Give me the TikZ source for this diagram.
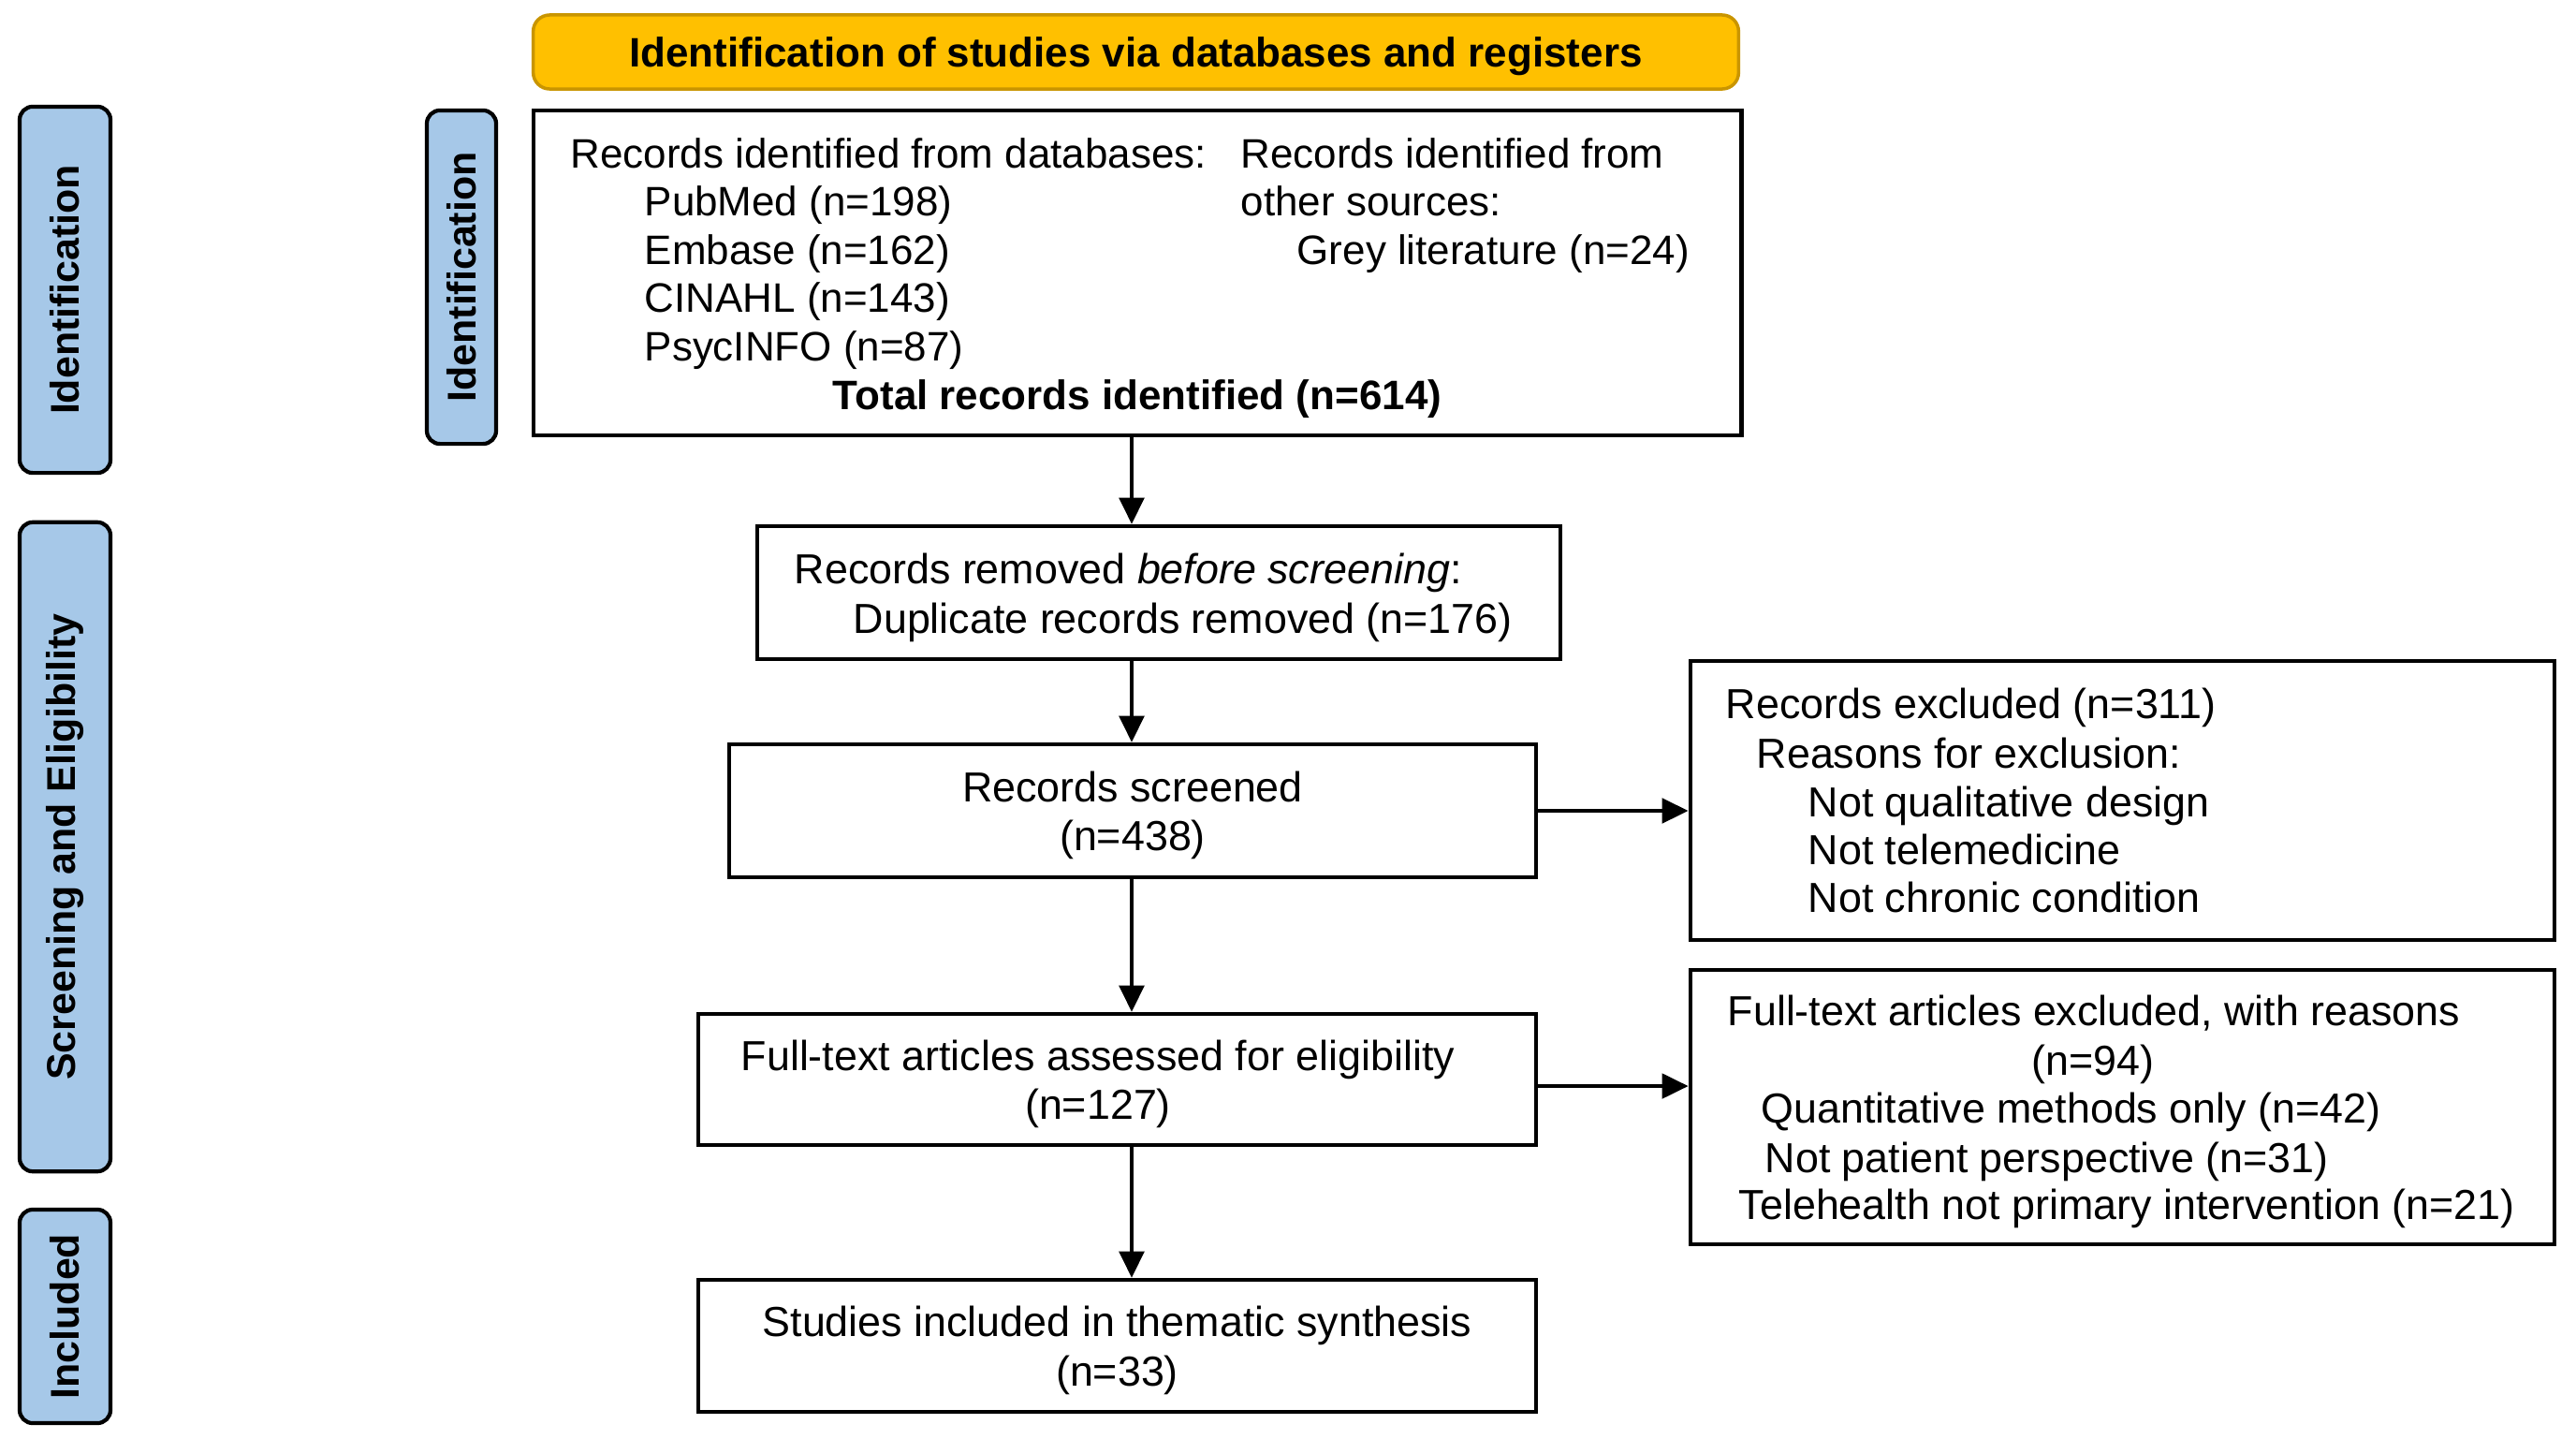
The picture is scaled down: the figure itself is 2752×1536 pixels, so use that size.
\documentclass[tikz,border=0pt]{standalone}
\usepackage{fontspec}
\setmainfont{Liberation Sans}
\usetikzlibrary{arrows.meta}
\definecolor{phaseblue}{HTML}{A6C8E8}
\definecolor{headfill}{HTML}{FFC000}
\definecolor{headline}{HTML}{C99500}
\begin{document}
\begin{tikzpicture}[x=0.01cm,y=-0.01cm,
  every node/.style={font=\fontsize{12.75}{14.9}\selectfont},
  idfont/.style={font=\fontsize{12.5}{14.7}\selectfont},
  box/.style={draw=black, line width=1.2pt, fill=white, inner sep=0pt, align=center},
  phase/.style={draw=black, line width=1.2pt, fill=phaseblue, rounded corners=4pt, inner sep=0pt},
  phasetext/.style={rotate=90, font=\fontsize{12.2}{14.7}\selectfont\bfseries},
  header/.style={draw=headline, line width=1pt, fill=headfill, rounded corners=5pt, inner sep=0pt},
  headtext/.style={inner sep=0pt, font=\fontsize{12.5}{14.7}\selectfont\bfseries},
  ln/.style={anchor=base west, inner sep=0pt},
  ctext/.style={align=center, inner sep=0pt},
  arr/.style={draw=black, line width=1.2pt, -{Triangle[length=8pt,width=7.5pt]}}
]
\useasboundingbox (0,0) rectangle (2752,1536);

% phase bars
\node[phase, minimum width=0.97cm, minimum height=3.91cm] (pid) at (69.5,309.5) {};
\node[phasetext] (pidt) at (pid.center) {Identification};
\node[phase, minimum width=0.74cm, minimum height=3.56cm] (pid2) at (493,296) {};
\node[phasetext] (pid2t) at (pid2.center) {Identification};
\node[phase, minimum width=0.97cm, minimum height=6.93cm] (pscr) at (69.5,904.5) {};
\node[phasetext] (pscrt) at (pscr.center) {Screening and Eligibility};
\node[phase, minimum width=0.97cm, minimum height=2.28cm] (pinc) at (69.5,1406) {};
\node[phasetext] (pinct) at (pinc.center) {Included};

% header
\node[header, minimum width=12.87cm, minimum height=0.79cm] (head) at (1213.5,55.5) {};
\node[headtext] (headt) at (1213.5,60) {Identification of studies via databases and registers};

% identification box
\node[box, minimum width=12.90cm, minimum height=3.47cm] (id) at (1215,291.5) {};
\node[ln, idfont] (id1) at (609,179) {Records identified from databases:};
\node[ln, idfont] (id2) at (688,230.6) {PubMed (n=198)};
\node[ln, idfont] (id3) at (688,282.2) {Embase (n=162)};
\node[ln, idfont] (id4) at (688,333.8) {CINAHL (n=143)};
\node[ln, idfont] (id5) at (688,385.4) {PsycINFO (n=87)};
\node[ln, idfont] (id6) at (1325,179) {Records identified from};
\node[ln, idfont] (id7) at (1325,230.6) {other sources:};
\node[ln, idfont] (id8) at (1385,282.2) {Grey literature (n=24)};
\node[anchor=base, inner sep=0pt, font=\fontsize{12.5}{14.7}\selectfont\bfseries] (idt) at (1215,437) {Total records identified (n=614)};

% removed
\node[box, minimum width=8.58cm, minimum height=1.42cm] (rem) at (1238,633) {};
\node[ln] (rem1) at (848,623) {Records removed \textit{before screening}:};
\node[ln] (rem2) at (911,676) {Duplicate records removed (n=176)};

% screened
\node[box, minimum width=8.62cm, minimum height=1.42cm] (scr) at (1210,866) {};
\node[ctext] (scrt) at (1210,871) {Records screened\\(n=438)};

% assessed
\node[box, minimum width=8.95cm, minimum height=1.40cm] (ass) at (1193.5,1153) {};
\node[ctext] (asst) at (1173,1158) {Full-text articles assessed for eligibility\\(n=127)};

% included
\node[box, minimum width=8.95cm, minimum height=1.41cm] (inc) at (1193.5,1437.5) {};
\node[ctext] (inct) at (1193.5,1442.5) {Studies included in thematic synthesis\\(n=33)};

% excluded
\node[box, minimum width=9.23cm, minimum height=2.98cm] (exc) at (2267.5,855) {};
\node[ln] (exc1) at (1843,767) {Records excluded (n=311)};
\node[ln] (exc2) at (1876,820) {Reasons for exclusion:};
\node[ln] (exc3) at (1931,872) {Not qualitative design};
\node[ln] (exc4) at (1931,923) {Not telemedicine};
\node[ln] (exc5) at (1931,974) {Not chronic condition};

% full-text excluded
\node[box, minimum width=9.23cm, minimum height=2.93cm] (ftx) at (2267.5,1182.5) {};
\node[ln] (ftx1) at (1845,1095) {Full-text articles excluded, with reasons};
\node[anchor=base, inner sep=0pt] (ftx2) at (2236,1148) {(n=94)};
\node[ln] (ftx3) at (1881,1199) {Quantitative methods only (n=42)};
\node[ln] (ftx4) at (1885,1252) {Not patient perspective (n=31)};
\node[ln] (ftx5) at (1857,1302) {Telehealth not primary intervention (n=21)};

% connectors
\coordinate (ax) at (1209,0);
\draw[arr] (id.south -| ax) -- (rem.north -| ax);
\draw[arr] (rem.south -| ax) -- (scr.north -| ax);
\draw[arr] (scr.south -| ax) -- (ass.north -| ax);
\draw[arr] (ass.south -| ax) -- (inc.north -| ax);
\draw[arr] (scr.east) -- (scr.east -| exc.west);
\draw[arr] ([yshift=-2pt]ass.east) -- ([yshift=-2pt]ass.east -| ftx.west);
\end{tikzpicture}
\end{document}
